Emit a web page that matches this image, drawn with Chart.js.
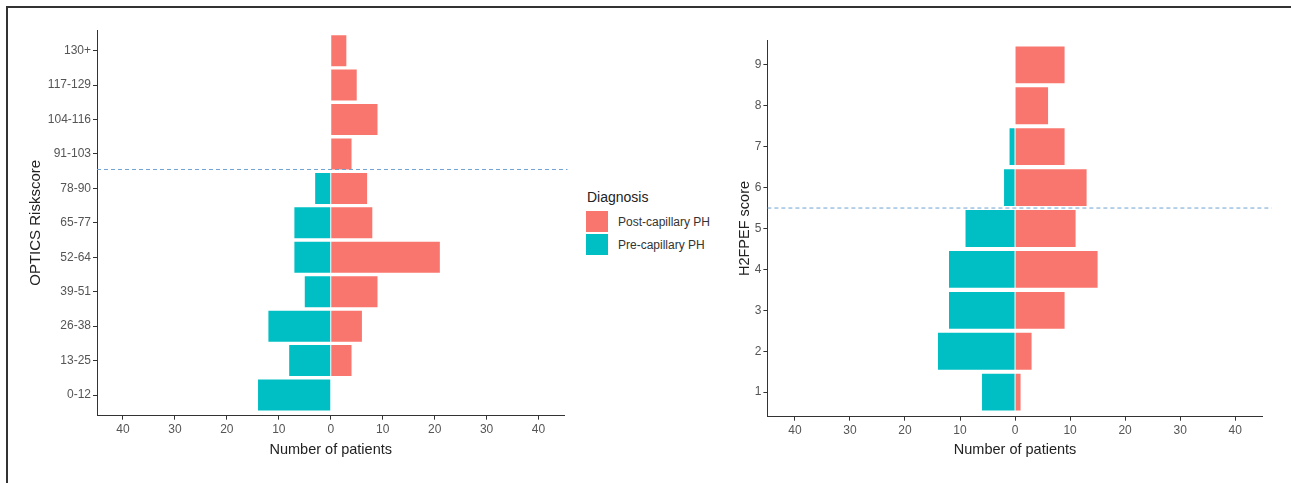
<!DOCTYPE html>
<html>
<head>
<meta charset="utf-8">
<script src="https://cdn.jsdelivr.net/npm/chart.js@4.4.1/dist/chart.umd.min.js"></script>
<style>
  html, body { margin: 0; padding: 0; background: #fff; }
  body { width: 1291px; height: 483px; position: relative; overflow: hidden; font-family: "Liberation Sans", Arial, sans-serif; }
  #frame { position: absolute; left: 6px; top: 6px; width: 1300px; height: 500px; border-top: 2px solid #333; border-left: 2px solid #333; }
  canvas { position: absolute; }
  #c1 { left: 10px; top: 11px; }
  #c2 { left: 720px; top: 11px; }
  #legend { position: absolute; left: 586px; top: 189px; color: #222; }
  #legend .title { font-size: 14px; line-height: 16px; margin-left: 1px; margin-bottom: 5px; }
  #legend .row { display: flex; align-items: center; height: 23px; }
  #legend .sw { width: 22px; height: 21px; margin-right: 10px; }
  #legend .lab { font-size: 12px; color: #333; }
</style>
</head>
<body>
<div id="frame"></div>
<canvas id="c1" width="570" height="460"></canvas>
<canvas id="c2" width="571" height="460"></canvas>
<div id="legend">
  <div class="title">Diagnosis</div>
  <div class="row"><div class="sw" style="background:#F8766D"></div><div class="lab">Post-capillary PH</div></div>
  <div class="row"><div class="sw" style="background:#00BFC4"></div><div class="lab">Pre-capillary PH</div></div>
</div>
<script>
// ---- data ----
const optics_categories = ["0-12","13-25","26-38","39-51","52-64","65-77","78-90","91-103","104-116","117-129","130+"];
const optics_post = [0, 4, 6, 9, 21, 8, 7, 4, 9, 5, 3];
const optics_pre  = [14, 8, 12, 5, 7, 7, 3, 0, 0, 0, 0];
const optics_cutoff = 6.55;

const h2_categories = [1, 2, 3, 4, 5, 6, 7, 8, 9];
const h2_post = [1, 3, 9, 15, 11, 13, 9, 6, 9];
const h2_pre  = [6, 14, 12, 12, 9, 2, 1, 0, 0];
const h2_cutoff = 5.5;

const x_ticks = [-40, -30, -20, -10, 0, 10, 20, 30, 40];
const series_names = ["Post-capillary PH", "Pre-capillary PH"];
const series_colors = ["#F8766D", "#00BFC4"];

const FONT = "'Liberation Sans', Arial, sans-serif";

const dashPlugin = {
  id: 'cutoff',
  afterDatasetsDraw(chart, args, opts) {
    const y = chart.scales.y.getPixelForValue(opts.value);
    const a = chart.chartArea;
    const ctx = chart.ctx;
    ctx.save();
    ctx.strokeStyle = '#6FA3D2';
    ctx.lineWidth = 1;
    ctx.setLineDash([4, 3]);
    ctx.beginPath();
    ctx.moveTo(a.left, y);
    ctx.lineTo(a.right + opts.extend, y);
    ctx.stroke();
    ctx.restore();
  }
};

function makeChart(id, cats, post, pre, cutoff, yTitle, yLabels, cfg) {
  const postData = cats.map((c, i) => ({ x: post[i], y: i }));
  const preData = cats.map((c, i) => ({ x: -pre[i], y: i }));
  return new Chart(document.getElementById(id), {
    type: 'bar',
    data: {
      datasets: [
        { label: series_names[0], data: postData, backgroundColor: series_colors[0], borderWidth: 0, barPercentage: 0.9, categoryPercentage: 1 },
        { label: series_names[1], data: preData, backgroundColor: series_colors[1], borderWidth: 0, barPercentage: 0.9, categoryPercentage: 1 }
      ]
    },
    options: {
      indexAxis: 'y',
      responsive: false,
      animation: false,
      layout: { padding: { left: cfg.padLeft, right: cfg.padRight, top: cfg.padTop, bottom: 0 } },
      plugins: {
        legend: { display: false },
        tooltip: { enabled: false },
        cutoff: { value: cutoff, extend: cfg.extend }
      },
      scales: {
        x: {
          type: 'linear',
          stacked: true,
          min: -45, max: 45,
          afterBuildTicks: (ax) => { ax.ticks = x_ticks.map(v => ({ value: v })); },
          afterFit: (ax) => { ax.height = cfg.xHeight; },
          grid: { drawOnChartArea: false, drawTicks: true, tickLength: 4, color: '#333' },
          border: { display: true, color: '#333', width: 1 },
          ticks: { color: '#555', font: { family: FONT, size: 12 }, padding: 3, maxRotation: 0,
                   callback: (v) => Math.abs(v) },
          title: { display: true, text: 'Number of patients', color: '#222', font: { family: FONT, size: 14.5 }, padding: { top: 0, bottom: 12 } }
        },
        y: {
          type: 'linear',
          stacked: true,
          offset: false,
          min: cfg.yMin, max: cfg.yMax,
          afterBuildTicks: (ax) => { ax.ticks = cats.map((c, i) => ({ value: i })); },
          afterFit: (ax) => { ax.width = cfg.yWidth; },
          grid: { offset: false, drawOnChartArea: false, drawTicks: true, tickLength: 4, color: '#333' },
          border: { display: true, color: '#333', width: 1 },
          ticks: { color: '#555', font: { family: FONT, size: 12 }, padding: 2,
                   callback: (v) => yLabels[v] },
          title: { display: true, text: yTitle, color: '#222', font: { family: FONT, size: cfg.yTitleSize }, padding: { top: 0, bottom: 0 } }
        }
      }
    },
    plugins: [dashPlugin]
  });
}

makeChart('c1', optics_categories, optics_post, optics_pre, optics_cutoff, 'OPTICS Riskscore', optics_categories,
  { padLeft: 17, padRight: 15.5, padTop: 19, xHeight: 55.3, yWidth: 70, yMin: -0.6, yMax: 10.6, extend: 3, yTitleSize: 15 });

// H2FPEF: index i corresponds to score h2_categories[i]; cutoff converted to index space
makeChart('c2', h2_categories, h2_post, h2_pre, h2_cutoff - h2_categories[0], 'H2FPEF score', h2_categories.map(String),
  { padLeft: 16, padRight: 28.3, padTop: 29.3, xHeight: 54.3, yWidth: 31.4, yMin: -0.6, yMax: 8.6, extend: 9, yTitleSize: 14.5 });
</script>
</body>
</html>
